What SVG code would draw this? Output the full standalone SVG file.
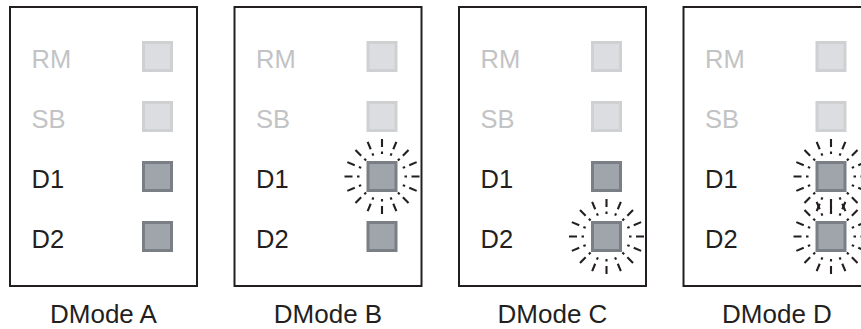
<svg xmlns="http://www.w3.org/2000/svg" width="861" height="329" viewBox="0 0 861 329">
<defs>
<style>
.panel{fill:#fff;stroke:#231f20;stroke-width:2}
.lbl{font-family:"Liberation Sans",Arial,sans-serif;font-size:25.5px}
.off{fill:#c2c3c5}
.on{fill:#231f20}
.cap{font-family:"Liberation Sans",Arial,sans-serif;font-size:26px;fill:#231f20;text-anchor:middle}
.sqoff{fill:#dcdde0;stroke:#cfd0d2;stroke-width:3}
.sqon{fill:#a0a4ab;stroke:#7a7f85;stroke-width:3}
.ray{stroke:#231f20;stroke-width:2.1;stroke-dasharray:2.5 4.5 8;fill:none}
</style>
<g id="glow">
<line class="ray" x1="0" y1="-22.5" x2="0" y2="-38" transform="rotate(0)"/>
<line class="ray" x1="0" y1="-22.5" x2="0" y2="-38" transform="rotate(22.5)"/>
<line class="ray" x1="0" y1="-22.5" x2="0" y2="-38" transform="rotate(45)"/>
<line class="ray" x1="0" y1="-22.5" x2="0" y2="-38" transform="rotate(67.5)"/>
<line class="ray" x1="0" y1="-22.5" x2="0" y2="-38" transform="rotate(90)"/>
<line class="ray" x1="0" y1="-22.5" x2="0" y2="-38" transform="rotate(112.5)"/>
<line class="ray" x1="0" y1="-22.5" x2="0" y2="-38" transform="rotate(135)"/>
<line class="ray" x1="0" y1="-22.5" x2="0" y2="-38" transform="rotate(157.5)"/>
<line class="ray" x1="0" y1="-22.5" x2="0" y2="-38" transform="rotate(180)"/>
<line class="ray" x1="0" y1="-22.5" x2="0" y2="-38" transform="rotate(202.5)"/>
<line class="ray" x1="0" y1="-22.5" x2="0" y2="-38" transform="rotate(225)"/>
<line class="ray" x1="0" y1="-22.5" x2="0" y2="-38" transform="rotate(247.5)"/>
<line class="ray" x1="0" y1="-22.5" x2="0" y2="-38" transform="rotate(270)"/>
<line class="ray" x1="0" y1="-22.5" x2="0" y2="-38" transform="rotate(292.5)"/>
<line class="ray" x1="0" y1="-22.5" x2="0" y2="-38" transform="rotate(315)"/>
<line class="ray" x1="0" y1="-22.5" x2="0" y2="-38" transform="rotate(337.5)"/>
</g>
<g id="panelBase">
<rect class="panel" x="0" y="0" width="187" height="279"/>
<text class="lbl off" x="21.5" y="60.5">RM</text>
<text class="lbl off" x="21.5" y="120.5">SB</text>
<text class="lbl on" x="21.5" y="180.5">D1</text>
<text class="lbl on" x="21.5" y="240.5">D2</text>
<rect class="sqoff" x="133.5" y="35.5" width="28" height="28"/>
<rect class="sqoff" x="133.5" y="95.5" width="28" height="28"/>
<rect class="sqon" x="133.5" y="155.5" width="28" height="28"/>
<rect class="sqon" x="133.5" y="215.5" width="28" height="28"/>
</g>
</defs>
<rect width="861" height="329" fill="#fff"/>
<g id="modeA" transform="translate(10,7)">
<use href="#panelBase"/>
<text class="cap" x="93.5" y="315.5">DMode A</text>
</g>
<g id="modeB" transform="translate(234.5,7)">
<use href="#panelBase"/>
<use href="#glow" x="147.5" y="169.5"/>
<text class="cap" x="93.5" y="315.5">DMode B</text>
</g>
<g id="modeC" transform="translate(459,7)">
<use href="#panelBase"/>
<use href="#glow" x="147.5" y="229.5"/>
<text class="cap" x="93.5" y="315.5">DMode C</text>
</g>
<g id="modeD" transform="translate(683.5,7)">
<use href="#panelBase"/>
<use href="#glow" x="147.5" y="169.5"/>
<use href="#glow" x="147.5" y="229.5"/>
<text class="cap" x="93.5" y="315.5">DMode D</text>
</g>
<g id="connectors"/>
</svg>
